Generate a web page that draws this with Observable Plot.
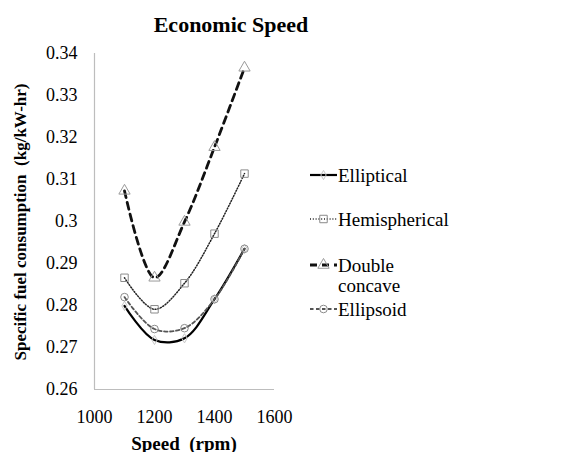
<!DOCTYPE html>
<html><head><meta charset="utf-8">
<script src="https://cdn.jsdelivr.net/npm/d3@7"></script>
<script src="https://cdn.jsdelivr.net/npm/@observablehq/plot@0.6"></script>
<style>
body{margin:0;background:#fff;}
#wrap{position:relative;width:581px;height:452px;font-family:"Liberation Serif",serif;color:#000;overflow:hidden;}
#wrap > svg{position:absolute;left:0;top:0;}
#wrap svg text{font-family:"Liberation Serif",serif !important;}
.t{position:absolute;white-space:nowrap;line-height:1;font-family:"Liberation Serif",serif;}
</style></head><body><div id="wrap"></div>
<script>
const speeds = [1100, 1200, 1300, 1400, 1500];
const seriesNames = ["Elliptical", "Hemispherical", "Double concave", "Ellipsoid"];
const elliptical    = [0.2799, 0.2718, 0.2722, 0.2815, 0.2935];
const hemispherical = [0.2866, 0.2791, 0.2853, 0.2971, 0.3114];
const doubleConcave = [0.3073, 0.2866, 0.2999, 0.3177, 0.3366];
const ellipsoid     = [0.2820, 0.2744, 0.2746, 0.2815, 0.2935];
const xTicks = [1000, 1200, 1400, 1600];
const yTicks = [0.26, 0.27, 0.28, 0.29, 0.30, 0.31, 0.32, 0.33, 0.34];
const titleText = "Economic Speed";
const xTitle = "Speed\u00a0\u00a0(rpm)";
const yTitle = "Specific fuel consumption\u00a0\u00a0(kg/kW-hr)";

const valuesBySeries = [elliptical, hemispherical, doubleConcave, ellipsoid];
const styles = [
  {stroke: "#000", width: 2.2, dash: null, symbol: "diamond", r: 2.8, mstroke: "#c8c8c8"},
  {stroke: "#222", width: 1.5, dash: "1,1.8", symbol: "square", r: 4.2, mstroke: "#8a8a8a"},
  {stroke: "#111", width: 2.8, dash: "7,5", symbol: "triangle", r: 4.2, mstroke: "#9a9a9a"},
  {stroke: "#555", width: 1.8, dash: "3.5,2.5", symbol: "circle", r: 3.8, mstroke: "#8a8a8a"}
];

const rows = [];
seriesNames.forEach((name, i) => speeds.forEach((s, j) => rows.push({series: name, speed: s, sfc: valuesBySeries[i][j]})));

const marks = [
  Plot.ruleX([xTicks[0]], {y1: yTicks[0], y2: yTicks[yTicks.length - 1], stroke: "#bdbdbd", strokeWidth: 1.2}),
  Plot.ruleY([yTicks[0]], {x1: xTicks[0], x2: xTicks[xTicks.length - 1], stroke: "#bdbdbd", strokeWidth: 1.2})
];
seriesNames.forEach((name, i) => {
  const st = styles[i];
  const d = rows.filter(r => r.series === name);
  marks.push(Plot.line(d, {x: "speed", y: "sfc", curve: "catmull-rom", stroke: st.stroke, strokeWidth: st.width, strokeDasharray: st.dash}));
});
seriesNames.forEach((name, i) => {
  const st = styles[i];
  const d = rows.filter(r => r.series === name);
  marks.push(Plot.dot(d, {x: "speed", y: "sfc", symbol: () => st.symbol, r: st.r, stroke: st.mstroke, strokeWidth: 1, fill: "none"}));
});

const chart = Plot.plot({
  width: 581, height: 452,
  marginLeft: 94, marginRight: 307, marginTop: 53, marginBottom: 63,
  style: {fontFamily: "Liberation Serif, serif", fontSize: "18px", color: "#000", background: "transparent"},
  x: {domain: [1000, 1600], ticks: xTicks, tickSize: 0, tickPadding: 21, label: null, tickFormat: d => String(d)},
  y: {domain: [0.26, 0.34], ticks: yTicks, tickSize: 0, tickPadding: 17, label: null, tickFormat: d => String(+d.toFixed(2))},
  marks
});
const wrap = document.getElementById("wrap");
wrap.appendChild(chart);

function addText(txt, css) {
  const el = document.createElement("div");
  el.className = "t";
  el.textContent = txt;
  Object.assign(el.style, css);
  wrap.appendChild(el);
  return el;
}
addText(titleText, {left: "231px", top: "25px", transform: "translate(-50%,-50%)", fontWeight: "bold", fontSize: "22px"});
addText(xTitle, {left: "184px", top: "443px", transform: "translate(-50%,-50%)", fontWeight: "bold", fontSize: "19px"});
addText(yTitle, {left: "20px", top: "222px", transform: "translate(-50%,-50%) rotate(-90deg)", fontWeight: "bold", fontSize: "17px"});

// legend
const legendY = [175, 219, 265, 309];
seriesNames.forEach((name, i) => {
  const st = styles[i];
  const y = legendY[i];
  const svg = d3.create("svg").attr("width", 30).attr("height", 16)
    .style("position", "absolute").style("left", "308px").style("top", (y - 8) + "px");
  svg.append("line").attr("x1", 2).attr("x2", 29).attr("y1", 8).attr("y2", 8)
    .attr("stroke", st.stroke).attr("stroke-width", st.width).attr("stroke-dasharray", st.dash);
  const symMap = {diamond: d3.symbolDiamond, square: d3.symbolSquare, triangle: d3.symbolTriangle, circle: d3.symbolCircle};
  svg.append("path").attr("transform", "translate(15.5,8)")
    .attr("d", d3.symbol(symMap[st.symbol], Math.PI * st.r * st.r)())
    .attr("fill", "none").attr("stroke", st.mstroke);
  wrap.appendChild(svg.node());
  const parts = name === "Double concave" ? ["Double", "concave"] : [name];
  parts.forEach((p, k) => addText(p, {left: "338px", top: (y + k * 20) + "px", transform: "translateY(-50%)", fontSize: "19px"}));
});
</script></body></html>
